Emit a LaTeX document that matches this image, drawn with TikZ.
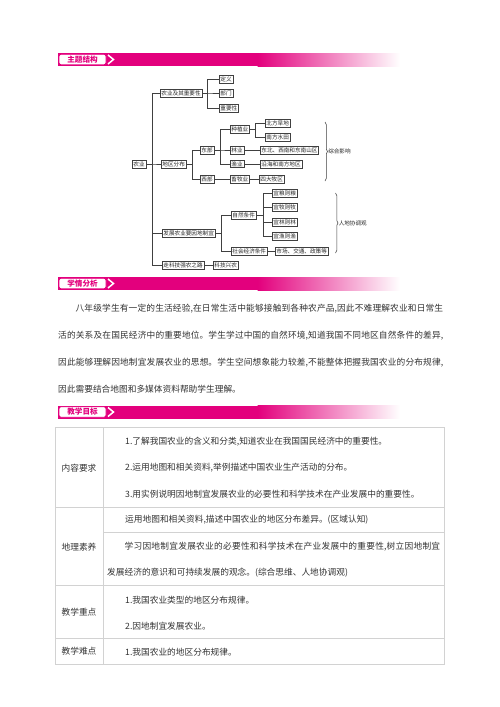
\documentclass[tikz,border=0pt]{standalone}
\usepackage{fontspec}
\setmainfont{Noto Sans CJK SC}
\usetikzlibrary{decorations.pathreplacing}
\XeTeXlinebreaklocale "zh"
\XeTeXlinebreakskip=0pt plus 1pt
\definecolor{rose}{HTML}{E3007D}
\definecolor{ink}{HTML}{333333}
\definecolor{rulegray}{HTML}{D2D2D2}
\tikzset{
  box/.style={draw=black!75, line width=.5pt, inner sep=1.2pt, anchor=west, text=black!85, font=\fontsize{5.6}{6.5}\selectfont},
  link/.style={draw=black!75, line width=.5pt},
  cell/.style={anchor=west, inner sep=0pt, text=ink, font=\fontsize{8.7}{26}\selectfont},
  head/.style={inner sep=0pt, text=ink, font=\fontsize{8.7}{26}\selectfont},
}
\begin{document}
\begin{tikzpicture}[x=1pt, y=-1pt]
\useasboundingbox[fill=white] (0,0) rectangle (500,707);

% section bars
\foreach \y/\t/\n in {59.5/主题结构/bar1, 283.5/学情分析/bar2, 412/教学目标/bar3} {
  \fill[rose] (58,\y-6.5) rectangle (258,\y+6.5);
  \shade[left color=rose, right color=white] (257.5,\y-6.5) rectangle (400,\y+6.5);
  \node[draw=rose, line width=.9pt, fill=white, rounded corners=2pt, minimum width=47pt, minimum height=10.5pt, inner sep=0pt, text=rose, font=\fontsize{7.6}{8}\selectfont\bfseries] (\n) at (82.5,\y) {\t};
  \draw[white, line width=1.5pt] (108,\y-4.5) -- (113.5,\y) -- (108,\y+4.5);
}

% structure tree
\node[box] (agri) at (132,164) {农业};
\node[box] (impt) at (160,93) {农业及其重要性};
\node[box] (defn) at (219,79) {定义};
\node[box] (sector) at (219,93) {部门};
\node[box] (role) at (219,108) {重要性};
\node[box] (distr) at (161,164) {地区分布};
\node[box] (east) at (200,150) {东部};
\node[box] (west) at (200,179) {西部};
\node[box] (crop) at (230,129) {种植业};
\node[box] (forest) at (230,150) {林业};
\node[box] (fish) at (230,164) {渔业};
\node[box] (herd) at (230,179) {畜牧业};
\node[box] (north) at (265,123) {北方旱地};
\node[box] (south) at (265,137) {南方水田};
\node[box] (hill) at (260,150) {东北、西南和东南山区};
\node[box] (coast) at (260,164) {沿海和南方地区};
\node[box] (pasture) at (259,179) {四大牧区};
\node[box] (adapt) at (162,233) {发展农业要因地制宜};
\node[box] (natural) at (231,215) {自然条件};
\node[box] (social) at (231,251) {社会经济条件};
\node[box] (grain) at (272,193) {宜粮则粮};
\node[box] (graze) at (272,207) {宜牧则牧};
\node[box] (wood) at (272,222) {宜林则林};
\node[box] (aqua) at (272,236) {宜渔则渔};
\node[box] (market) at (275,251) {市场、交通、政策等};
\node[box] (tech) at (162,265) {走科技强农之路};
\node[box] (techag) at (213,265) {科技兴农};

\foreach \c in {impt,distr,adapt,tech}
  \draw[link] (agri.east) -- ++(6,0) |- (\c.west);
\foreach \c in {defn,sector,role}
  \draw[link] (impt.east) -- ++(5,0) |- (\c.west);
\foreach \c in {east,west}
  \draw[link] (distr.east) -- ++(6,0) |- (\c.west);
\foreach \c in {crop,forest,fish}
  \draw[link] (east.east) -- ++(6,0) |- (\c.west);
\foreach \c in {north,south}
  \draw[link] (crop.east) -- ++(6,0) |- (\c.west);
\foreach \c in {natural,social}
  \draw[link] (adapt.east) -- ++(6,0) |- (\c.west);
\foreach \c in {grain,graze,wood,aqua}
  \draw[link] (natural.east) -- ++(7,0) |- (\c.west);
\draw[link] (forest) -- (hill);
\draw[link] (fish) -- (coast);
\draw[link] (west) -- (herd);
\draw[link] (herd) -- (pasture);
\draw[link] (social) -- (market);
\draw[link] (tech) -- (techag);

\draw[link, decorate, decoration={brace, amplitude=2.5pt}] (325,122) -- (325,181)
  node[midway, right=3pt, inner sep=0pt, text=black!85, font=\fontsize{5.6}{6.5}\selectfont] (mix) {综合影响};
\draw[link, decorate, decoration={brace, amplitude=2.5pt}] (335.5,193) -- (335.5,253)
  node[midway, right=3pt, inner sep=0pt, text=black!85, font=\fontsize{5.6}{6.5}\selectfont] (harmony) {人地协调观};

% student analysis
\node[anchor=north west, text width=385pt, align=justify, inner sep=0pt, text=ink, font=\fontsize{8.7}{27}\selectfont] (study) at (58,304) {\hspace*{17.4pt}八年级学生有一定的生活经验,在日常生活中能够接触到各种农产品,因此不难理解农业和日常生\linebreak 活的关系及在国民经济中的重要地位。学生学过中国的自然环境,知道我国不同地区自然条件的差异,\linebreak 因此能够理解因地制宜发展农业的思想。学生空间想象能力较差,不能整体把握我国农业的分布规律,\linebreak 因此需要结合地图和多媒体资料帮助学生理解。};

% objectives table
\draw[rulegray, line width=.8pt] (55,427) rectangle (444,664);
\draw[rulegray, line width=.8pt] (103,427) -- (103,664);
\foreach \y in {507,585,638}
  \draw[rulegray, line width=.8pt] (55,\y) -- (444,\y);
\draw[rulegray, line width=.8pt] (103,532) -- (444,532);

\node[head] (req) at (79,468) {内容要求};
\node[head] (lit) at (79,547) {地理素养};
\node[head] (key) at (79,612) {教学重点};
\node[head] (hard) at (79,651) {教学难点};

\node[cell] (req1) at (125,442) {1.了解我国农业的含义和分类,知道农业在我国国民经济中的重要性。};
\node[cell] (req2) at (125,468) {2.运用地图和相关资料,举例描述中国农业生产活动的分布。};
\node[cell] (req3) at (125,494) {3.用实例说明因地制宜发展农业的必要性和科学技术在产业发展中的重要性。};
\node[cell] (lit1) at (125,520) {运用地图和相关资料,描述中国农业的地区分布差异。(区域认知)};
\node[anchor=north west, text width=333pt, align=justify, inner sep=0pt, text=ink, font=\fontsize{8.7}{26}\selectfont] (lit2) at (107,542) {\hspace*{17.4pt}学习因地制宜发展农业的必要性和科学技术在产业发展中的重要性,树立因地制宜\linebreak 发展经济的意识和可持续发展的观念。(综合思维、人地协调观)};
\node[cell] (key1) at (125,600) {1.我国农业类型的地区分布规律。};
\node[cell] (key2) at (125,626) {2.因地制宜发展农业。};
\node[cell] (hard1) at (125,652) {1.我国农业的地区分布规律。};
\end{tikzpicture}
\end{document}
